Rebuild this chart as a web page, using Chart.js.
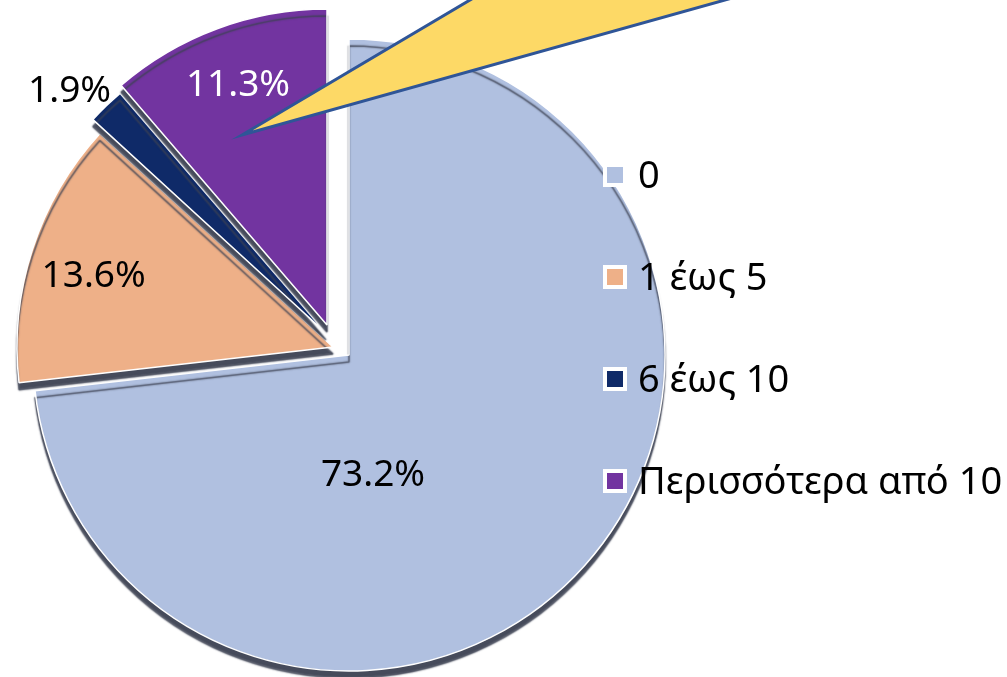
<!DOCTYPE html>
<html>
<head>
<meta charset="utf-8">
<script src="https://cdn.jsdelivr.net/npm/chart.js@4/dist/chart.umd.min.js"></script>
<style>
html, body { margin: 0; padding: 0; background: #fff; }
#wrap { width: 1007px; height: 677px; position: relative; }
</style>
</head>
<body>
<div id="wrap"><canvas id="myChart"></canvas></div>
<script>
// data
var nhom = ['0', '1 έως 5', '6 έως 10', 'Περισσότερα από 10'];
var phantram = [73.2, 13.6, 1.9, 11.3];
// styles
var mau = ['#B0C0E0', '#EEB088', '#0F2A68', '#7234A0'];
var mauChu = ['#000', '#000', '#000', '#fff'];
var dich = [[0, 0], [-16, -8], [-23, -22], [-22, -30]]; // exploded slices
var nhanR = [0.39, 0.79, 1.115, 0.81];
var nhanGoc = [37, -1.5, -2.6, 0];
var FONT = '"Noto Sans", "DejaVu Sans", sans-serif';

// move exploded slices after each update + 3D-like edge
var tachLat = {
    id: 'tachLat',
    afterDatasetUpdate: function (chart, args) {
        var arcs = chart.getDatasetMeta(args.index).data;
        arcs.forEach(function (a, i) {
            a.x += dich[i][0];
            a.y += dich[i][1];
        });
    },
    beforeDatasetsDraw: function (chart) {
        var ctx = chart.ctx;
        ctx.save();
        ctx.shadowColor = 'rgba(60,65,82,0.95)';
        ctx.shadowOffsetX = 0;
        ctx.shadowOffsetY = 7;
        ctx.shadowBlur = 1.5;
    },
    afterDatasetsDraw: function (chart) {
        chart.ctx.restore();
    }
};

// labels, callout, legend
var veThem = {
    id: 'veThem',
    afterDraw: function (chart) {
        var ctx = chart.ctx;
        var arcs = chart.getDatasetMeta(0).data;
        ctx.save();
        ctx.font = '37px ' + FONT;
        ctx.textAlign = 'center';
        ctx.textBaseline = 'middle';
        arcs.forEach(function (a, i) {
            var mid = (a.startAngle + a.endAngle) / 2 + nhanGoc[i] * Math.PI / 180;
            var r = a.outerRadius * nhanR[i];
            ctx.fillStyle = mauChu[i];
            ctx.fillText(phantram[i].toFixed(1) + '%', a.x + Math.cos(mid) * r, a.y + Math.sin(mid) * r);
        });

        // yellow callout pointing into the purple slice
        var p = arcs[3];
        var tx = p.x - 85, ty = p.y - 190;
        ctx.beginPath();
        ctx.moveTo(tx, ty);
        ctx.lineTo(tx + (470 - tx) * 1.4, ty - ty * 1.4);
        ctx.lineTo(tx + (725 - tx) * 1.4, ty - ty * 1.4);
        ctx.closePath();
        ctx.fillStyle = '#FDD966';
        ctx.fill();
        ctx.lineWidth = 3;
        ctx.lineJoin = 'miter';
        ctx.strokeStyle = '#2F5597';
        ctx.stroke();

        // legend
        ctx.textAlign = 'left';
        ctx.textBaseline = 'alphabetic';
        ctx.font = '38px ' + FONT;
        chart.data.labels.forEach(function (t, i) {
            var cy = 175 + i * 102;
            ctx.fillStyle = '#fff';
            ctx.fillRect(603, cy - 12, 24, 24);
            ctx.fillStyle = mau[i];
            ctx.fillRect(607, cy - 8, 16, 16);
            ctx.fillStyle = '#000';
            ctx.fillText(t, 638, cy + 13);
        });
        ctx.restore();
    }
};

var bieudo = new Chart('myChart', {
    type: 'pie',
    data: {
        labels: nhom,
        datasets: [{
            data: phantram,
            backgroundColor: mau,
            borderColor: '#fff',
            borderWidth: 1.5,
            clip: false
        }]
    },
    options: {
        responsive: true,
        maintainAspectRatio: false,
        animation: false,
        radius: 316,
        layout: { padding: { left: 0, right: 309, top: 33, bottom: 0 } },
        plugins: {
            legend: { display: false },
            tooltip: { enabled: false }
        }
    },
    plugins: [tachLat, veThem]
});
</script>
</body>
</html>
